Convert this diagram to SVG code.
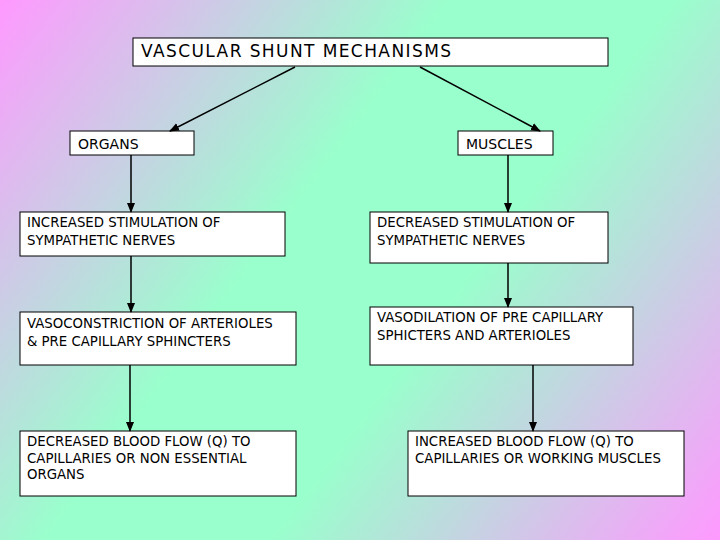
<svg xmlns="http://www.w3.org/2000/svg" width="720" height="540" viewBox="0 0 720 540">
<defs>
<linearGradient id="bg" x1="0" y1="0" x2="720" y2="540" gradientUnits="userSpaceOnUse">
<stop offset="0" stop-color="#ff99ff"/><stop offset="0.4" stop-color="#99ffcc"/><stop offset="0.6" stop-color="#99ffcc"/><stop offset="1" stop-color="#ff99ff"/>
</linearGradient>
<marker id="ah" markerWidth="10" markerHeight="10" refX="9" refY="5" orient="auto" markerUnits="userSpaceOnUse">
<path d="M0,1 L10,5 L0,9 Z" fill="#000"/></marker>
<style>
rect.b{fill:#fff;stroke:#000;stroke-width:1}
text{font-family:"DejaVu Sans","Liberation Sans",sans-serif;font-size:13.3px;fill:#000}
.c line{stroke:#000;stroke-width:1.5;marker-end:url(#ah)}
</style>
</defs>
<rect width="720" height="540" fill="url(#bg)"/>
<g id="title"><rect class="b" x="133" y="38" width="475" height="28"/><text x="141" y="57" style="font-size:17px" textLength="310">VASCULAR SHUNT MECHANISMS</text></g>
<g id="organs"><rect class="b" x="70" y="131" width="124" height="24"/><text x="78" y="149" style="font-size:14px">ORGANS</text></g>
<g id="muscles"><rect class="b" x="458" y="131" width="95" height="24"/><text x="466" y="149" style="font-size:14px">MUSCLES</text></g>
<g id="l1"><rect class="b" x="20" y="212" width="265" height="44"/><text x="27" y="227">INCREASED STIMULATION OF</text><text x="27" y="245">SYMPATHETIC NERVES</text></g>
<g id="l2"><rect class="b" x="20" y="312" width="276" height="53"/><text x="27" y="328">VASOCONSTRICTION OF ARTERIOLES</text><text x="27" y="346">&amp; PRE CAPILLARY SPHINCTERS</text></g>
<g id="l3"><rect class="b" x="20" y="431" width="276" height="65"/><text x="27" y="446">DECREASED BLOOD FLOW (Q) TO</text><text x="27" y="463">CAPILLARIES OR NON ESSENTIAL</text><text x="27" y="479">ORGANS</text></g>
<g id="r1"><rect class="b" x="370" y="212" width="238" height="51"/><text x="377" y="227">DECREASED STIMULATION OF</text><text x="377" y="245">SYMPATHETIC NERVES</text></g>
<g id="r2"><rect class="b" x="370" y="307" width="263" height="58"/><text x="377" y="322">VASODILATION OF PRE CAPILLARY</text><text x="377" y="340">SPHICTERS AND ARTERIOLES</text></g>
<g id="r3"><rect class="b" x="408" y="431" width="276" height="65"/><text x="415" y="446">INCREASED BLOOD FLOW (Q)  TO</text><text x="415" y="463">CAPILLARIES OR WORKING MUSCLES</text></g>
<g class="c" id="connectors">
<line x1="295" y1="67" x2="170" y2="131"/><line x1="420" y1="67" x2="540" y2="131"/>
<line x1="131" y1="155" x2="131" y2="212"/><line x1="131" y1="256" x2="131" y2="312"/><line x1="130" y1="365" x2="130" y2="431"/>
<line x1="508" y1="155" x2="508" y2="212"/><line x1="508" y1="263" x2="508" y2="307"/><line x1="533" y1="365" x2="533" y2="431"/>
</g>
</svg>
